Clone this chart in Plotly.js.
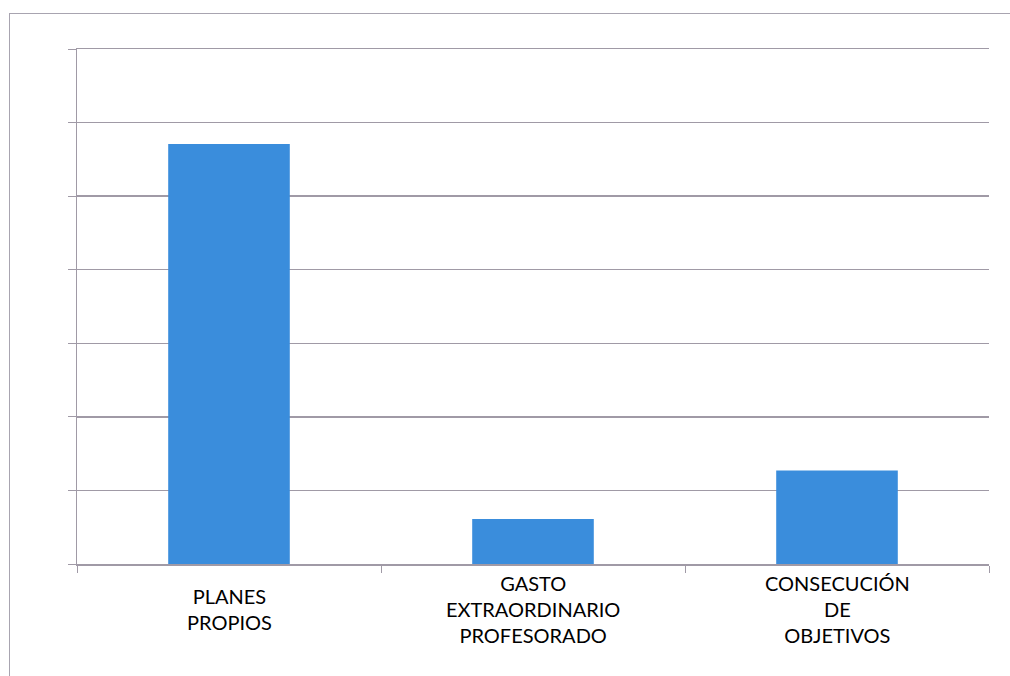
<!DOCTYPE html>
<html>
<head>
<meta charset="utf-8">
<script src="https://cdn.plot.ly/plotly-3.0.1.min.js"></script>
<style>
html,body{margin:0;padding:0;background:#fff;}
#frame{position:absolute;left:9px;top:13px;width:1010px;height:700px;border-left:1.5px solid #a8a4b0;border-top:1.5px solid #a8a4b0;}
#chart{position:absolute;left:0;top:0;width:1010px;height:676px;}
</style>
</head>
<body>
<div id="frame"></div>
<div id="chart"></div>
<script>
var categories = ["PLANES<br>PROPIOS", "GASTO<br>EXTRAORDINARIO<br>PROFESORADO", "CONSECUCIÓN<br>DE<br>OBJETIVOS"];
var values = [5.71, 0.61, 1.27];
var barColor = "#3a8ddc";
var gridColor = "#a09aa6";

var trace = {
  type: "bar",
  x: categories,
  y: values,
  marker: {color: barColor},
  hoverinfo: "x+y"
};

var labelCenterY = (564 - 609) / (564 - 49);
var annotations = categories.map(function(c){
  return {
    x: c, xref: "x", y: labelCenterY, yref: "paper", yanchor: "middle",
    text: c, showarrow: false,
    font: {family: "Lato, 'Open Sans', sans-serif", size: 20, color: "#000"},
    align: "center"
  };
});

var layout = {
  width: 1010, height: 676,
  margin: {l: 77, r: 21, t: 49, b: 112},
  paper_bgcolor: "rgba(0,0,0,0)",
  plot_bgcolor: "rgba(0,0,0,0)",
  bargap: 0.6,
  showlegend: false,
  xaxis: {
    type: "category",
    showticklabels: false,
    ticks: "outside", tickson: "boundaries", ticklen: 7, tickcolor: gridColor,
    showline: true, linecolor: gridColor, linewidth: 1.5, mirror: true,
    showgrid: false, zeroline: false
  },
  yaxis: {
    range: [0, 7], dtick: 1,
    showticklabels: false,
    ticks: "outside", ticklen: 8, tickcolor: gridColor,
    showline: true, linecolor: gridColor, linewidth: 1.5,
    showgrid: true, gridcolor: gridColor, gridwidth: 1.5,
    zeroline: false
  },
  annotations: annotations
};

Plotly.newPlot("chart", [trace], layout, {displayModeBar: false, staticPlot: true});
</script>
</body>
</html>
